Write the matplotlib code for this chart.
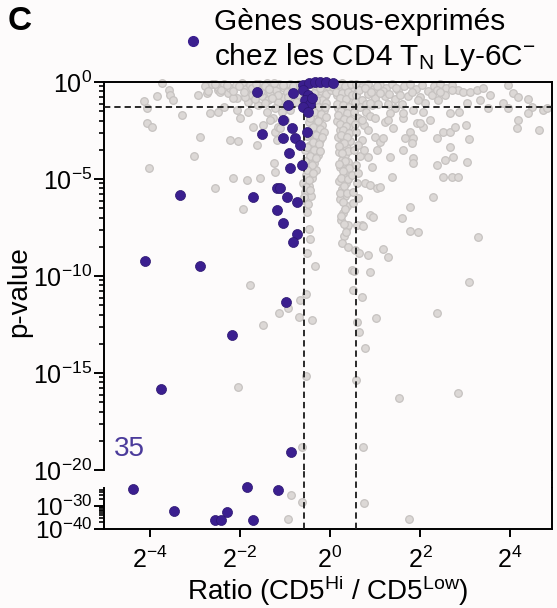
import numpy as np
import matplotlib
matplotlib.use('Agg')
import matplotlib.pyplot as plt
from matplotlib.ticker import FixedLocator, FixedFormatter, NullLocator, NullFormatter

plt.rcParams['font.family'] = ['Liberation Sans', 'DejaVu Sans']
plt.rcParams['mathtext.fontset'] = 'custom'
plt.rcParams['mathtext.rm'] = 'Liberation Sans'
plt.rcParams['mathtext.it'] = 'Liberation Sans:italic'
plt.rcParams['mathtext.bf'] = 'Liberation Sans:bold'

# ---- data : log2(ratio CD5Hi/CD5Low) and -log10(p-value) ----
# genes under-expressed (purple)
purple_log2_ratio = [
    -1.62, -1.51, -3.33, -4.11, -2.89, -2.18, -3.76, -0.98, -0.87,
    -1.16, -4.38, -3.47, -1.84, -2.29, -2.56, -2.42, -1.71,
    -0.82, -0.93, -1.04, -0.84, -1.04, -0.78, -0.51, -0.67, -0.91, -0.62, -0.89,
    -1.18, -1.11, -1.71, -0.96, -0.73, -1.18, -1.04, -0.73, -0.82,
    -0.60, -0.47, -0.33, -0.22, -0.09, 0.07,
    -0.60, -0.49, -0.56, -0.44, -0.60, -0.49, -0.40,
]
purple_neglog10_p = [
    0.52, 2.68, 5.82, 9.23, 9.48, 13.04, 15.82, 11.34, 19.07,
    23.0, 22.6, 32.2, 22.0, 32.6, 36.1, 36.1, 36.1,
    0.57, 1.19, 1.96, 2.37, 2.89, 2.89, 2.58, 3.25, 3.66, 4.28, 4.43,
    5.46, 5.46, 5.93, 5.93, 6.19, 6.60, 7.27, 7.84, 8.25,
    0.15, 0.05, 0.0, 0.0, 0.0, 0.05,
    0.41, 0.67, 0.93, 1.13, 1.29, 1.55, 0.82,
]

# all other genes (grey)
grey_log2_ratio = [
    # scattered, left side
    -3.73, -3.84, -3.58, -3.56, -3.49, -4.13, -4.07, -3.29, -4.07, -3.96,
    -2.89, -3.02, -4.02, -2.22, -2.04, -2.93, -2.73, -2.67, -2.49, -2.36,
    -2.07, -2.00, -2.07, -2.56, -2.16, -1.84, -2.49, -2.27, -1.93, -1.24,
    -1.22, -1.56, -2.44, -2.16, -1.82, -1.40, -1.27, -1.49, -1.22, -1.18,
    -1.62, -1.82, -1.71, -1.16,
    # top strip, left
    -2.78, -2.62, -2.49, -2.36, -2.22, -2.09, -1.96, -1.87, -1.78, -1.67,
    -1.58, -1.49, -1.40, -1.33, -1.29, -1.20, -1.13, -1.07, -1.02, -0.96,
    -0.89, -0.84, -0.80, -0.73, -0.69, -1.51, -1.73, -1.89, -1.38, -1.16,
    -0.98, -1.60, -1.22, -1.07, -0.89, -1.33, -1.00, -1.11,
    -2.71, -2.56, -2.42, -2.29, -2.16, -2.02, -1.91, -1.73, -1.64, -1.53,
    -1.44, -1.36, -1.24, -1.16, -1.04, -0.93, -0.82, -0.76, -1.44, -1.67,
    -1.29,
    # dense band just below ratio 1
    -0.40, -0.27, -0.16, -0.31, -0.18, -0.09, -0.38, -0.24, -0.11, -0.33,
    -0.20, -0.42, -0.27, -0.13, -0.38, -0.22, -0.47, -0.31, -0.18, -0.40,
    -0.27, -0.51, -0.36, -0.22, -0.44, -0.29, -0.56, -0.40, -0.27, -0.49,
    -0.36, -0.60, -0.44, -0.31, -0.53, -0.40, -0.60, -0.47, -0.56, -0.42,
    -0.62, -0.49,
    -0.67, -0.56, -0.22, -0.36, -0.09, -0.18, -0.31, -0.09, -0.27, -0.11,
    -0.36, -0.20, -0.09, -0.44, -0.27, -0.38, -0.22, -0.13, -0.47, -0.31,
    -0.18, -0.38, -0.24, -0.51, -0.36, -0.22, -0.44, -0.31, -0.56, -0.40,
    -0.51, -0.38, -0.47, -0.53, -0.44, -0.58,
    -0.51, -0.47, -0.44, -0.51, -0.33, -0.53, -0.67, -0.69, -0.40, -0.53,
    -0.62, -0.93, -1.13, -1.49, -1.78, -2.04,
    0.00, 0.02, -0.04, 0.07,
    # dense band just above ratio 1
    0.13, 0.27, 0.40, 0.20, 0.33, 0.47, 0.16, 0.29, 0.42, 0.22,
    0.36, 0.49, 0.18, 0.31, 0.44, 0.24, 0.38, 0.16, 0.29, 0.42,
    0.22, 0.36, 0.18, 0.31, 0.44, 0.24, 0.38, 0.20, 0.33, 0.27,
    0.40, 0.22, 0.36, 0.29, 0.20, 0.36, 0.27, 0.33, 0.22, 0.38,
    0.29, 0.24, 0.38, 0.31, 0.27, 0.40, 0.40,
    0.20, 0.33, 0.47, 0.13, 0.27, 0.40, 0.22, 0.36, 0.49, 0.16,
    0.29, 0.42, 0.24, 0.38, 0.18, 0.31, 0.44, 0.22, 0.36, 0.29,
    0.42, 0.24, 0.38, 0.31, 0.20, 0.40, 0.27, 0.33, 0.20, 0.42,
    0.29, 0.24, 0.40, 0.31, 0.22, 0.38, 0.29, 0.33, 0.24, 0.31,
    0.36,
    # top strip, right
    0.58, 0.71, 0.84, 0.98, 1.11, 1.24, 1.38, 1.51, 1.64, 1.78,
    1.91, 2.04, 2.18, 2.31, 2.44, 2.58, 2.71, 2.84, 0.58, 0.71,
    0.84, 1.00, 0.67, 0.80, 0.93, 1.22, 1.44, 1.60, 1.73, 2.00,
    2.11, 2.27, 0.62, 0.76, 0.89, 0.58, 0.71, 0.53, 0.67, 0.58,
    0.49, 0.60, 0.51, 0.62,
    0.64, 0.78, 0.91, 1.04, 1.18, 1.31, 0.56, 0.80, 1.07, 0.53,
    0.71, 1.00, 0.56, 0.84, 0.62, 0.76, 1.47, 1.82, 1.96, 2.38,
    2.56, 1.56, 1.29, 1.44,
    # scattered, right side
    0.89, 1.11, 1.33, 1.22, 1.00, 1.11, 1.04, 0.84, 0.93, 0.62,
    0.78, 0.89, 1.04, 0.51, 1.29, 1.40, 1.62, 1.78, 1.62, 1.84,
    1.84, 1.38, 1.93, 2.07, 2.29, 1.78, 1.60, 1.78, 1.96, 0.89,
    0.96, 0.71, 0.60, 2.38, 2.51, 2.67, 2.78, 3.09, 2.67, 2.73,
    3.04, 2.56, 2.51, 2.71, 2.84, 2.38, 3.29, 1.29, 0.84, 2.40,
    2.44, 2.71, 2.96, 3.11, 3.27, 3.40, 3.56, 3.33, 3.84, 4.07,
    4.18, 3.96, 4.40, 4.49, 4.40, 4.73, 4.18, 4.16, 4.64, 3.04,
    2.87, 3.51, 3.96, 4.82, 1.62, 1.84, 2.07, 2.22, 2.00, 1.67,
    1.82, 1.33, 1.84, 1.18, 1.11, 3.02, 2.67,
    # low p-values
    0.73, 0.56, 0.64, 1.18, 0.49, 0.53, 0.89, 3.09, 0.51, 0.71,
    0.60, 1.02, 0.64, 2.38, 0.78, 0.58, 1.53, 2.84, 0.73,
    -0.87, -0.62, 0.76, -0.93, 1.76,
]
grey_neglog10_p = [
    0.05, 0.72, 0.41, 0.67, 0.93, 0.98, 1.34, 1.70, 2.11, 2.32,
    2.84, 3.81, 4.43, 2.99, 3.04, 0.67, 0.57, 1.60, 1.55, 1.29,
    1.44, 1.86, 0.82, 5.46, 4.95, 5.05, 0.41, 0.57, 6.55, 4.18,
    4.64, 4.95, 0.52, 0.82, 1.03, 1.55, 1.86, 2.22, 2.58, 2.99,
    3.25, 1.55, 2.32, 2.32,
    0.21, 0.10, 0.26, 0.10, 0.31, 0.15, 0.05, 0.36, 0.15, 0.41,
    0.10, 0.31, 0.05, 0.57, 0.21, 0.41, 0.10, 0.77, 0.31, 0.52,
    0.10, 0.93, 0.36, 0.67, 0.10, 0.72, 0.67, 0.77, 0.93, 1.03,
    1.19, 1.19, 1.34, 1.55, 1.44, 1.96, 1.96, 2.37,
    0.46, 0.10, 0.41, 0.15, 0.46, 0.21, 0.52, 0.31, 0.10, 0.46,
    0.21, 0.36, 0.05, 0.67, 0.15, 0.77, 0.21, 1.03, 1.08, 0.88,
    0.82,
    0.10, 0.21, 0.10, 0.41, 0.52, 0.31, 0.72, 0.82, 0.72, 1.08,
    1.19, 1.39, 1.49, 1.44, 1.75, 1.86, 2.06, 2.16, 2.22, 2.47,
    2.58, 2.78, 2.89, 2.99, 3.25, 3.35, 3.51, 3.66, 3.76, 4.02,
    4.18, 4.33, 4.43, 4.54, 4.79, 4.95, 5.21, 5.36, 5.67, 5.88,
    6.08, 6.29,
    0.15, 0.31, 0.31, 0.57, 0.62, 0.93, 0.93, 1.08, 1.29, 1.29,
    1.55, 1.65, 1.80, 1.86, 2.01, 2.32, 2.42, 2.58, 2.68, 2.73,
    2.84, 3.09, 3.20, 3.35, 3.51, 3.56, 3.81, 3.92, 4.07, 4.28,
    4.54, 4.69, 5.05, 5.41, 5.57, 5.93,
    6.70, 7.58, 8.09, 8.81, 9.48, 10.93, 11.24, 12.11, 12.27, 15.15,
    18.81, 11.65, 11.91, 12.53, 10.46, 15.72,
    0.10, 0.41, 0.21, 0.26,
    0.10, 0.05, 0.15, 0.36, 0.46, 0.31, 0.67, 0.77, 0.72, 1.03,
    1.13, 0.98, 1.34, 1.44, 1.55, 1.75, 1.86, 2.01, 2.16, 2.27,
    2.47, 2.58, 2.84, 2.94, 3.04, 3.25, 3.40, 3.61, 3.76, 4.02,
    4.12, 4.38, 4.54, 4.85, 5.10, 5.21, 5.52, 5.88, 6.03, 6.39,
    6.75, 7.11, 7.47, 7.94, 8.30, 7.37, 8.51,
    0.10, 0.21, 0.10, 0.52, 0.57, 0.52, 0.82, 0.88, 0.67, 1.13,
    1.19, 1.29, 1.49, 1.60, 1.70, 1.91, 1.96, 2.16, 2.27, 2.47,
    2.63, 2.73, 2.84, 3.14, 3.30, 3.56, 3.66, 4.07, 4.23, 4.43,
    4.59, 4.95, 5.00, 5.36, 5.72, 5.72, 6.19, 6.55, 6.91, 7.32,
    7.73,
    0.10, 0.26, 0.10, 0.36, 0.15, 0.31, 0.10, 0.41, 0.21, 0.10,
    0.36, 0.15, 0.46, 0.21, 0.10, 0.31, 0.15, 0.41, 0.67, 0.93,
    0.62, 0.82, 1.29, 1.55, 1.19, 0.72, 0.88, 1.13, 0.72, 0.77,
    1.08, 0.67, 1.86, 2.22, 1.75, 2.58, 2.99, 3.51, 3.81, 4.28,
    4.79, 5.21, 5.67, 5.98,
    0.41, 0.31, 0.52, 0.21, 0.46, 0.62, 1.03, 1.13, 1.13, 1.55,
    1.96, 1.86, 2.16, 2.47, 3.25, 3.51, 0.31, 0.52, 0.93, 0.41,
    0.67, 0.67, 1.13, 1.34,
    1.08, 0.57, 1.60, 2.06, 2.84, 3.09, 3.51, 3.87, 4.38, 4.69,
    5.21, 5.31, 5.46, 6.24, 1.96, 2.37, 1.86, 2.58, 3.51, 2.89,
    3.92, 4.90, 2.11, 2.32, 5.93, 6.44, 7.01, 7.68, 7.73, 6.86,
    6.96, 7.37, 7.37, 2.89, 2.58, 2.58, 2.32, 2.94, 3.35, 3.87,
    4.12, 4.02, 4.90, 4.90, 4.90, 4.28, 7.99, 9.02, 8.92, 0.93,
    0.52, 0.41, 0.52, 0.52, 0.41, 0.31, 0.67, 0.93, 1.08, 0.57,
    0.77, 0.15, 0.88, 1.29, 1.60, 1.44, 1.96, 2.37, 2.47, 1.08,
    1.55, 1.34, 1.34, 1.34, 1.60, 1.44, 1.55, 1.96, 2.11, 2.89,
    3.14, 3.87, 4.18, 2.89, 5.41, 2.22, 1.60,
    7.42, 8.66, 8.81, 8.61, 9.69, 9.74, 9.79, 10.31, 10.72, 11.08,
    12.37, 12.16, 12.89, 11.91, 13.71, 15.36, 16.29, 16.03, 18.81,
    25.1, 28.2, 28.6, 35.6, 35.6,
]

p_cutoff = 0.05
ratio_cutoff = 1.5
n_genes_label = '35'
x_tick_exp = [-4, -2, 0, 2, 4]
y_major_exp = [0, -5, -10, -15, -20]
y_low_major_exp = [-30, -40]

PURPLE = '#3b1f8f'
GREY_FACE = '#dcd8d6'
GREY_EDGE = '#c6c2c0'
BG = '#fdfbfb'

gx = 2.0 ** np.array(grey_log2_ratio)
gp = 10.0 ** -np.array(grey_neglog10_p)
px = 2.0 ** np.array(purple_log2_ratio)
pp = 10.0 ** -np.array(purple_neglog10_p)

fig = plt.figure(figsize=(5.57, 6.08), dpi=100, facecolor=BG)
W, H = 557.0, 608.0
ax = fig.add_axes([104 / W, 1 - 470 / H, 448 / W, 388 / H])
axl = fig.add_axes([104 / W, 1 - 529 / H, 448 / W, 41 / H])

low_top = 10 ** -22.22
for a in (ax, axl):
    a.set_facecolor(BG)
    a.set_xscale('log', base=2)
    a.set_yscale('log')
    a.set_xlim(2 ** -5.02, 2 ** 4.93)
    for s in a.spines.values():
        s.set_linewidth(1.4)
ax.set_ylim(1e-20, 1)
axl.set_ylim(1e-40, low_top)
ax.spines['bottom'].set_visible(False)
axl.spines['top'].set_visible(False)

# points, split between the two panels of the broken axis
up_g = gp >= 1e-20
up_p = pp >= 1e-20
gkw = dict(s=30, facecolor=GREY_FACE, edgecolor=GREY_EDGE, linewidths=0.9, zorder=2, clip_on=False)
pkw = dict(s=52, color=PURPLE, edgecolor='#2c1670', linewidths=0.5, zorder=4, clip_on=False)
ax.scatter(gx[up_g], gp[up_g], **gkw)
axl.scatter(gx[~up_g], gp[~up_g], **gkw)
ax.scatter(px[up_p], pp[up_p], **pkw)
axl.scatter(px[~up_p], pp[~up_p], **pkw)

# thresholds
dash = dict(color='#1a1a1a', lw=1.3, linestyle=(0, (3.5, 2.2)), zorder=3)
ax.axhline(p_cutoff, **dash)
for v in (1 / ratio_cutoff, ratio_cutoff):
    ax.axvline(v, **dash)
    axl.axvline(v, ymin=0, ymax=1 + 18 / 41, clip_on=False, **dash)

# y ticks (Prism-like minor ticks within each block)
def sup(base, e):
    return r'$\mathregular{%s^{%d}}$' % (base, e)

minor_up = [10.0 ** b * k ** 5 for b in (-20, -15, -10, -5) for k in range(2, 10)]
minor_low = [10.0 ** b * k ** 10 for b in (-40, -30) for k in range(2, 10)]
minor_low = [v for v in minor_low if v <= low_top * 1.01]

ax.yaxis.set_major_locator(FixedLocator([10.0 ** e for e in y_major_exp]))
ax.yaxis.set_major_formatter(FixedFormatter([sup(10, e) for e in y_major_exp]))
ax.yaxis.set_minor_locator(FixedLocator(minor_up))
ax.yaxis.set_minor_formatter(NullFormatter())
axl.yaxis.set_major_locator(FixedLocator([10.0 ** e for e in y_low_major_exp]))
axl.yaxis.set_major_formatter(FixedFormatter([sup(10, e) for e in y_low_major_exp]))
axl.yaxis.set_minor_locator(FixedLocator(minor_low))
axl.yaxis.set_minor_formatter(NullFormatter())

axl.xaxis.set_major_locator(FixedLocator([2.0 ** e for e in x_tick_exp]))
axl.xaxis.set_major_formatter(FixedFormatter([sup(2, e) for e in x_tick_exp]))
axl.xaxis.set_minor_locator(NullLocator())
ax.xaxis.set_minor_locator(NullLocator())
ax.tick_params(axis='x', which='both', bottom=False, labelbottom=False)

ax.tick_params(axis='y', which='major', direction='out', length=7, width=1.4,
               labelsize=18, pad=1.5)
axl.tick_params(axis='y', which='major', direction='out', length=7, width=1.4,
                labelsize=17.5, pad=1.5)
for a in (ax, axl):
    a.tick_params(axis='y', which='minor', direction='out', length=3.5, width=1.2)
axl.tick_params(axis='x', which='major', direction='out', length=6, width=1.4,
                labelsize=18, pad=7)

# right spine continues across the break
ax.plot([1, 1], [0, -18 / 388], transform=ax.transAxes, color='black',
        lw=1.4, clip_on=False, solid_capstyle='butt')

ax.set_ylabel('p-value', fontsize=20)
ax.yaxis.set_label_coords(-0.16, 0.46)
axl.set_xlabel(r'Ratio (CD5$^{\mathregular{Hi}}$ / CD5$^{\mathregular{Low}}$)', fontsize=20)
axl.xaxis.set_label_coords(0.5, -1.08)

ax.text(0.022, 0.02, n_genes_label, transform=ax.transAxes, fontsize=20,
        color='#4b3b9b', ha='left', va='bottom')

h, = ax.plot([], [], 'o', color=PURPLE, markersize=7, linestyle='none')
fig.legend([h], ['Gènes sous-exprimés\nchez les CD4 T$_{\\mathregular{N}}$ Ly-6C$^{\\mathregular{-}}$'],
           loc='upper left', bbox_to_anchor=(181 / W, 1 - 8 / H), frameon=False,
           fontsize=21.5, handlelength=0.8, handletextpad=0.3, borderpad=0,
           borderaxespad=0, labelspacing=0)

fig.text(8 / W, 1 - 6 / H, 'C', fontsize=24, fontweight='bold', ha='left', va='top')

fig.savefig('out.png', dpi=100, facecolor=BG)
